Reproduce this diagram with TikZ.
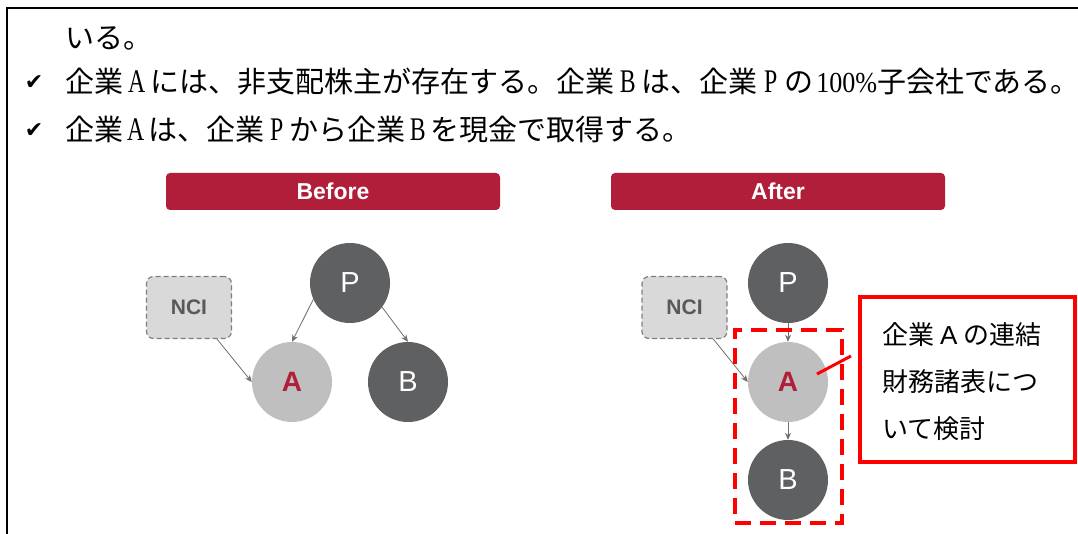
\documentclass[tikz,border=0pt]{standalone}
\usepackage{fontspec}
\usepackage{graphicx}
\setmainfont{Liberation Serif}
\setsansfont{Liberation Sans}
\newfontfamily\jp{Noto Sans CJK JP}
\newfontfamily\sym{DejaVu Sans}
\usetikzlibrary{arrows.meta,calc}
\definecolor{crim}{HTML}{B01E3A}
\definecolor{dgray}{HTML}{5F6062}
\definecolor{lgray}{HTML}{BFBFBF}
\definecolor{ncifill}{HTML}{D9D9D9}
\definecolor{nciline}{HTML}{7F7F7F}
\definecolor{ncitext}{HTML}{595959}
\definecolor{arr}{HTML}{6F6F6F}
\definecolor{rd}{HTML}{FF0000}
\newcommand{\lat}[2]{\makebox[#1]{\rmfamily\fontsize{33}{36}\selectfont\scalebox{0.72}[1]{#2}}}
\tikzset{
  txt/.style={anchor=west, inner sep=0pt, font=\jp\fontsize{29}{32}\selectfont},
  chk/.style={anchor=center, inner sep=0pt, font=\sym\fontsize{22}{24}\selectfont},
  bar/.style={fill=crim, rounded corners=4pt, minimum width=334pt, minimum height=37pt, inner sep=0pt,
    text=white, font=\sffamily\bfseries\fontsize{23}{25}\selectfont},
  darkc/.style={circle, fill=dgray, minimum size=80pt, inner sep=0pt, text=white,
    font=\sffamily\fontsize{29}{30}\selectfont},
  lightc/.style={circle, fill=lgray, minimum size=80pt, inner sep=0pt, text=crim,
    font=\sffamily\bfseries\fontsize{28}{30}\selectfont},
  nci/.style={draw=nciline, dash pattern=on 5pt off 3pt, line width=1.2pt, fill=ncifill, rounded corners=7pt,
    minimum width=85pt, minimum height=62pt, inner sep=0pt, text=ncitext,
    font=\sffamily\bfseries\fontsize{21}{24}\selectfont},
  conn/.style={draw=arr, line width=0.8pt, -{Stealth[length=7pt,width=6pt]}},
  reddash/.style={draw=rd, line width=4pt, dash pattern=on 16pt off 9pt, minimum width=107pt,
    minimum height=193pt, inner sep=0pt},
  redbox/.style={draw=rd, line width=3.5pt, minimum width=215pt, minimum height=165pt, inner sep=0pt},
  redline/.style={draw=rd, line width=3pt},
  ctxt/.style={anchor=west, inner sep=0pt, font=\jp\fontsize{26}{30}\selectfont},
}
\begin{document}
\begin{tikzpicture}[x=1pt,y=-1pt]
\useasboundingbox (0,0) rectangle (1078,534);
\fill[white] (0,0) rectangle (1078,534);
% frame
\draw[line width=2pt] (7,534) -- (7,8) -- (1078,8);
% top text
\node[txt] (t1) at (65,38) {いる。};
\node[chk] (k2) at (34,83) {✔};
\node[txt] (t2) at (65,82) {企業\lat{27pt}{A}には、非支配株主が存在する。企業\lat{27pt}{B}は、企業\lat{27pt}{P}の\makebox[64pt][r]{\rmfamily\scalebox{0.9}[1]{100\%}}子会社である。};
\node[chk] (k3) at (34,131) {✔};
\node[txt] (t3) at (65,130) {企業\lat{25pt}{A}は、企業\lat{25pt}{P}から企業\lat{25pt}{B}を現金で取得する。};
% headers
\node[bar] (hb) at (333,191.5) {Before};
\node[bar] (ha) at (778,191.5) {After};
% before diagram
\node[nci] (N1) at (189,307.5) {NCI};
\node[darkc] (P1) at (350,283) {P};
\node[lightc] (A1) at (292,382) {A};
\node[darkc] (B1) at (408,382) {B};
\draw[conn] ($(N1.south)!0.65!(N1.south east)$) -- (A1.west);
\draw[conn] (P1.204) -- (A1.north);
\draw[conn] (P1.323) -- (B1.north);
% after diagram
\node[nci] (N2) at (684.5,307.5) {NCI};
\node[darkc] (P2) at (788,283) {P};
\node[lightc] (A2) at (788,382) {A};
\node[darkc] (B2) at (788,480) {B};
\draw[conn] ($(N2.south)!0.67!(N2.south east)$) -- (A2.west);
\draw[conn] (P2.south) -- (A2.north);
\draw[conn] (A2.south) -- (B2.north);
\node[reddash] (grp) at (788.5,426.5) {};
% callout
\node[redbox] (cb) at (967.5,379.5) {};
\coordinate (c1) at (817,374);
\coordinate (c2) at (851,356);
\draw[redline] (c1) -- (c2);
\node[ctxt] (ct1) at (882,335) {企業\hspace{6pt}{\sffamily A}\hspace{6pt}の連結};
\node[ctxt] (ct2) at (882,382) {財務諸表につ};
\node[ctxt] (ct3) at (882,429) {いて検討};
\end{tikzpicture}
\end{document}
